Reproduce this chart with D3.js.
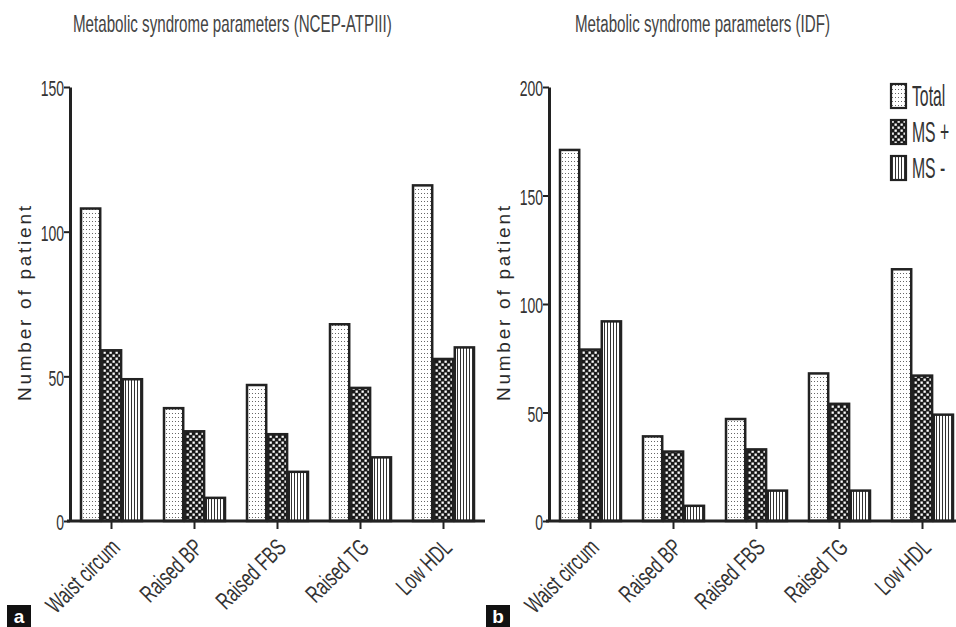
<!DOCTYPE html>
<html>
<head>
<meta charset="utf-8">
<script src="https://cdn.jsdelivr.net/npm/d3@7"></script>
<style>
  html, body { margin: 0; padding: 0; background: #fff; }
  svg { display: block; }
  text { font-family: "Liberation Sans", Arial, sans-serif; }
</style>
</head>
<body>
<svg id="chart" width="956" height="627"></svg>
<script>
// ---- data ----
const categories = ["Waist circum", "Raised BP", "Raised FBS", "Raised TG", "Low HDL"];
const seriesNames = ["Total", "MS +", "MS -"];

const ncepTotal = [108, 39, 47, 68, 116];
const ncepMSpos = [59, 31, 30, 46, 56];
const ncepMSneg = [49, 8, 17, 22, 60];

const idfTotal = [171, 39, 47, 68, 116];
const idfMSpos = [79, 32, 33, 54, 67];
const idfMSneg = [92, 7, 14, 14, 49];

const ncepTicks = [0, 50, 100, 150];
const idfTicks = [0, 50, 100, 150, 200];

const titles = ["Metabolic syndrome parameters (NCEP-ATPIII)", "Metabolic syndrome parameters (IDF)"];
const yLabel = "Number of patient";
const panelLabels = ["a", "b"];

// ---- drawing ----
const svg = d3.select("#chart");
const ink = "#222";

// patterns
const defs = svg.append("defs");
const pDots = defs.append("pattern").attr("id", "pDots").attr("patternUnits", "userSpaceOnUse")
  .attr("width", 3).attr("height", 4);
pDots.append("rect").attr("width", 3).attr("height", 4).attr("fill", "#fff");
pDots.append("rect").attr("x", 1).attr("y", 1).attr("width", 1).attr("height", 1).attr("fill", "#666");

const pCheck = defs.append("pattern").attr("id", "pCheck").attr("patternUnits", "userSpaceOnUse")
  .attr("width", 6).attr("height", 6);
pCheck.append("rect").attr("width", 6).attr("height", 6).attr("fill", "#1a1a1a");
pCheck.append("rect").attr("x", 0.5).attr("y", 0.5).attr("width", 2.3).attr("height", 2.3).attr("fill", "#fff");
pCheck.append("rect").attr("x", 3.5).attr("y", 3.5).attr("width", 2.3).attr("height", 2.3).attr("fill", "#fff");

const pStripe = defs.append("pattern").attr("id", "pStripe").attr("patternUnits", "userSpaceOnUse")
  .attr("width", 3).attr("height", 4);
pStripe.append("rect").attr("width", 3).attr("height", 4).attr("fill", "#fff");
pStripe.append("rect").attr("x", 1).attr("y", 0).attr("width", 1).attr("height", 4).attr("fill", "#333");

const fills = {"Total": "url(#pDots)", "MS +": "url(#pCheck)", "MS -": "url(#pStripe)"};

function drawChart(cfg) {
  const g = svg.append("g");
  const y = d3.scaleLinear().domain([0, cfg.max]).range([521, 87]);
  const x = d3.scaleBand().domain(categories).range([cfg.x0, cfg.x0 + 415]);
  const xs = d3.scaleBand().domain(seriesNames).range([11, 72]).paddingInner(0.08);

  const rows = categories.map((c, i) => ({
    cat: c,
    vals: seriesNames.map((s, j) => ({ s: s, v: cfg.series[j][i] }))
  }));

  // bars
  const grp = g.selectAll("g.cat").data(rows).join("g")
    .attr("transform", d => `translate(${x(d.cat)},0)`);
  grp.selectAll("rect").data(d => d.vals).join("rect")
    .attr("x", d => xs(d.s))
    .attr("width", xs.bandwidth())
    .attr("y", d => y(d.v))
    .attr("height", d => y(0) - y(d.v))
    .attr("fill", d => fills[d.s])
    .attr("stroke", ink).attr("stroke-width", 2.5);

  // y axis
  const ya = g.append("g").attr("transform", `translate(${cfg.x0},0)`)
    .call(d3.axisLeft(y).tickValues(cfg.ticks).tickSize(6).tickSizeOuter(0));
  ya.select(".domain").attr("stroke", ink).attr("stroke-width", 3);
  ya.selectAll(".tick line").attr("stroke", ink).attr("stroke-width", 2);
  ya.selectAll(".tick text").attr("font-size", 20).attr("fill", "#333")
    .attr("x", 0).attr("dy", "0.4em")
    .attr("transform", "translate(-6,0) scale(0.7,1.1)")
    .style("font-family", "Liberation Sans, Arial, sans-serif");

  // x axis
  const xa = g.append("g").attr("transform", `translate(0,521)`)
    .call(d3.axisBottom(x).tickSize(8).tickSizeOuter(0));
  xa.select(".domain").attr("stroke", ink).attr("stroke-width", 3)
    .attr("d", `M${cfg.x0 - 3},0H${cfg.x0 + 415}`);
  xa.selectAll(".tick line").attr("stroke", ink).attr("stroke-width", 2);
  xa.selectAll(".tick text").attr("font-size", 21).attr("fill", "#333")
    .attr("x", 0).attr("y", 0).attr("dy", 0)
    .attr("transform", "translate(10,28) rotate(-45) scale(0.78,1.15)")
    .style("text-anchor", "end")
    .style("font-family", "Liberation Sans, Arial, sans-serif");

  // title (condensed by a scale so that it spans the measured width)
  const t = g.append("text")
    .attr("x", 0).attr("y", 0)
    .attr("font-size", 23).attr("fill", "#444")
    .text(cfg.title);
  const tl = t.node().getComputedTextLength() || cfg.titleW;
  t.attr("transform", `translate(${cfg.titleX},32) scale(${cfg.titleW / tl},1)`);

  // y label
  g.append("text")
    .attr("transform", `translate(${cfg.x0 - 39},401) rotate(-90)`)
    .attr("font-size", 19).attr("fill", "#2a2a2a")
    .attr("textLength", 195).attr("lengthAdjust", "spacing")
    .text(yLabel);

  // panel label
  g.append("rect").attr("x", cfg.x0 - 63).attr("y", 605).attr("width", 24).attr("height", 22).attr("fill", "#111");
  g.append("text").attr("x", cfg.x0 - 51).attr("y", 623).attr("text-anchor", "middle")
    .attr("font-weight", "bold")
    .attr("font-size", 19).attr("fill", "#fff").text(cfg.panel);
}

drawChart({ x0: 70, max: 150, ticks: ncepTicks, series: [ncepTotal, ncepMSpos, ncepMSneg],
  title: titles[0], titleX: 73, titleW: 319, panel: panelLabels[0] });
drawChart({ x0: 549, max: 200, ticks: idfTicks, series: [idfTotal, idfMSpos, idfMSneg],
  title: titles[1], titleX: 575, titleW: 255, panel: panelLabels[1] });

// legend
const leg = svg.append("g").attr("transform", "translate(891,84)");
const li = leg.selectAll("g").data(seriesNames).join("g")
  .attr("transform", (d, i) => `translate(0,${i * 36})`);
li.append("rect").attr("width", 15).attr("height", 24)
  .attr("fill", d => fills[d]).attr("stroke", ink).attr("stroke-width", 2.2);
li.append("text")
  .attr("transform", "translate(21,22) scale(0.75,1.4)")
  .attr("font-size", 21).attr("fill", "#333")
  .text(d => d);
</script>
</body>
</html>
